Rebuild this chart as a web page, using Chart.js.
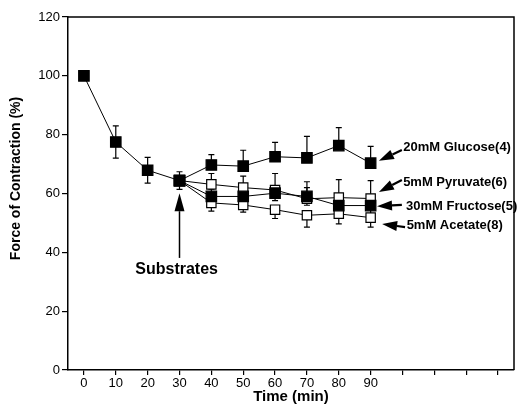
<!DOCTYPE html>
<html>
<head>
<meta charset="utf-8">
<script src="https://cdn.jsdelivr.net/npm/chart.js@4.4.1/dist/chart.umd.min.js"></script>
<style>
html,body{margin:0;padding:0;background:#fff;overflow:hidden;}
#wrap{width:517px;height:410px;position:relative;}
canvas{display:block;}
</style>
</head>
<body>
<div id="wrap"><canvas id="c" width="517" height="410"></canvas></div>
<script>
// ---- Data ----
const baselineTime = [0, 10, 20, 30];
const baselineValues = [100, 77.5, 67.9, 64.4];
const baselineErr = [0, 5.5, 4.4, 3.0];

const treatTime = [30, 40, 50, 60, 70, 80, 90];
const glucoseValues = [64.4, 69.7, 69.3, 72.5, 72.1, 76.3, 70.3];
const glucoseErrUp = [0, 3.5, 5.4, 4.9, 7.3, 6.1, 5.7];
const pyruvateValues = [64.4, 63.1, 62.0, 61.2, 58.2, 58.6, 58.3];
const pyruvateErrUp = [0, 3.7, 3.9, 5.6, 5.8, 6.1, 6.1];
const fructoseValues = [64.4, 59.0, 59.0, 60.1, 59.0, 55.9, 55.9];
const fructoseErr = [0, 2.5, 2.5, 2.5, 3.0, 3.0, 3.0];
const acetateValues = [64.4, 56.8, 56.1, 54.5, 52.6, 53.1, 51.8];
const acetateErrDown = [0, 2.8, 2.4, 3.0, 4.0, 3.4, 3.2];

const xTickValues = [0, 10, 20, 30, 40, 50, 60, 70, 80, 90, 100, 110, 120, 130];
const xLabelMax = 90;
const yTickValues = [0, 20, 40, 60, 80, 100, 120];

const seriesLabels = ['20mM Glucose(4)', '5mM Pyruvate(6)', '30mM Fructose(5)', '5mM Acetate(8)'];
// annotation anchors in data units: text position, arrow tail, arrow tip
const labelAnchors = [
  {text: [100.25, 75.5], tail: [99.8, 74.8], tip: [92.6, 71.1]},
  {text: [100.2, 63.6], tail: [99.8, 64.6], tip: [92.6, 60.5]},
  {text: [101.1, 55.7], tail: [99.8, 56.1], tip: [92.0, 55.7]},
  {text: [101.3, 49.0], tail: [100.8, 48.6], tip: [93.6, 49.6]}
];
const substratesLabel = 'Substrates';
const substratesAnchor = {text: [29.1, 34.0], tail: [30, 38.1], tip: [30, 60.1]};

const FONT = '"Liberation Sans", Arial, Helvetica, sans-serif';

function pts(xs, ys) { return xs.map((x, i) => ({x: x, y: ys[i]})); }

function ds(label, xs, ys, filled, errUp, errDown) {
  return {
    label: label,
    data: pts(xs, ys),
    borderColor: '#000',
    borderWidth: 1,
    pointStyle: 'rect',
    pointRadius: filled ? 7.4 : 6.6,
    pointBorderWidth: 1.2,
    pointBorderColor: '#000',
    pointBackgroundColor: filled ? '#000' : '#fff',
    fill: false,
    tension: 0,
    errUp: errUp,
    errDown: errDown
  };
}

const datasets = [
  ds('baseline', baselineTime, baselineValues, true, baselineErr, baselineErr),
  ds('fructose', treatTime, fructoseValues, true, fructoseErr, fructoseErr),
  ds('acetate', treatTime, acetateValues, false, null, acetateErrDown),
  ds('pyruvate', treatTime, pyruvateValues, false, pyruvateErrUp, null),
  ds('glucose', treatTime, glucoseValues, true, glucoseErrUp, null)
];

const errorBars = {
  id: 'errorBars',
  beforeDatasetsDraw(chart) {
    const ctx = chart.ctx, xs = chart.scales.x, ys = chart.scales.y;
    ctx.save();
    ctx.strokeStyle = '#000';
    ctx.lineWidth = 1.2;
    chart.data.datasets.forEach(d => {
      d.data.forEach((p, i) => {
        const px = xs.getPixelForValue(p.x);
        const py = ys.getPixelForValue(p.y);
        const segs = [];
        if (d.errUp && d.errUp[i] > 0) segs.push(ys.getPixelForValue(p.y + d.errUp[i]));
        if (d.errDown && d.errDown[i] > 0) segs.push(ys.getPixelForValue(p.y - d.errDown[i]));
        segs.forEach(ey => {
          ctx.beginPath();
          ctx.moveTo(px, py); ctx.lineTo(px, ey);
          ctx.moveTo(px - 3, ey); ctx.lineTo(px + 3, ey);
          ctx.stroke();
        });
      });
    });
    ctx.restore();
  }
};

function arrow(ctx, x1, y1, x2, y2, headLen, headW) {
  const ang = Math.atan2(y2 - y1, x2 - x1);
  const bx = x2 - headLen * Math.cos(ang), by = y2 - headLen * Math.sin(ang);
  ctx.beginPath();
  ctx.moveTo(x1, y1); ctx.lineTo(bx, by);
  ctx.stroke();
  ctx.beginPath();
  ctx.moveTo(x2, y2);
  ctx.lineTo(bx + headW / 2 * Math.sin(ang), by - headW / 2 * Math.cos(ang));
  ctx.lineTo(bx - headW / 2 * Math.sin(ang), by + headW / 2 * Math.cos(ang));
  ctx.closePath();
  ctx.fill();
}

const annotations = {
  id: 'annotations',
  afterDraw(chart) {
    const ctx = chart.ctx, xs = chart.scales.x, ys = chart.scales.y, a = chart.chartArea;
    const X = v => xs.getPixelForValue(v), Y = v => ys.getPixelForValue(v);
    ctx.save();
    // frame top/right
    ctx.strokeStyle = '#000';
    ctx.lineWidth = 1.5;
    ctx.beginPath();
    ctx.moveTo(a.left, a.top); ctx.lineTo(a.right, a.top); ctx.lineTo(a.right, a.bottom);
    ctx.stroke();
    // series labels with arrows
    ctx.fillStyle = '#000';
    ctx.lineWidth = 2.2;
    ctx.font = 'bold 13px ' + FONT;
    ctx.textAlign = 'left';
    ctx.textBaseline = 'middle';
    labelAnchors.forEach((an, i) => {
      arrow(ctx, X(an.tail[0]), Y(an.tail[1]), X(an.tip[0]), Y(an.tip[1]), 15, 10);
      ctx.fillText(seriesLabels[i], X(an.text[0]), Y(an.text[1]));
    });
    // substrates
    ctx.lineWidth = 1.5;
    arrow(ctx, X(substratesAnchor.tail[0]), Y(substratesAnchor.tail[1]), X(substratesAnchor.tip[0]), Y(substratesAnchor.tip[1]), 18, 10);
    ctx.font = 'bold 16px ' + FONT;
    ctx.textAlign = 'center';
    ctx.fillText(substratesLabel, X(substratesAnchor.text[0]), Y(substratesAnchor.text[1]));
    // axis titles
    ctx.font = 'bold 14px ' + FONT;
    ctx.save();
    ctx.translate(16, (a.top + a.bottom) / 2 - 15);
    ctx.rotate(-Math.PI / 2);
    ctx.textAlign = 'center';
    ctx.fillText('Force of Contraction (%)', 0, 0);
    ctx.restore();
    ctx.font = 'bold 15px ' + FONT;
    ctx.textAlign = 'center';
    ctx.fillText('Time (min)', (a.left + a.right) / 2, 397);
    ctx.restore();
  }
};

new Chart(document.getElementById('c'), {
  type: 'line',
  data: {datasets: datasets},
  options: {
    responsive: false,
    animation: false,
    layout: {autoPadding: false, padding: {top: 17, right: 3, left: 0, bottom: 0}},
    plugins: {legend: {display: false}, tooltip: {enabled: false}},
    scales: {
      x: {
        type: 'linear',
        min: -5, max: 135,
        afterBuildTicks: s => { s.ticks = xTickValues.map(v => ({value: v})); },
        afterFit: s => { s.height = 40; s.paddingRight = 0; s.paddingLeft = 0; },
        ticks: {
          color: '#000', padding: 1, maxRotation: 0, autoSkip: false,
          font: {family: FONT, size: 13},
          callback: v => (v <= xLabelMax ? String(v) : '')
        },
        grid: {drawOnChartArea: false, drawTicks: true, tickLength: 5, color: '#000', lineWidth: 1.2},
        border: {color: '#000', width: 1.5}
      },
      y: {
        type: 'linear',
        min: 0, max: 120,
        afterBuildTicks: s => { s.ticks = yTickValues.map(v => ({value: v})); },
        afterFit: s => { s.width = 68; },
        ticks: {color: '#000', padding: 2, font: {family: FONT, size: 13}},
        grid: {drawOnChartArea: false, drawTicks: true, tickLength: 6, color: '#000', lineWidth: 1.2},
        border: {color: '#000', width: 1.5}
      }
    }
  },
  plugins: [errorBars, annotations]
});
</script>
</body>
</html>
